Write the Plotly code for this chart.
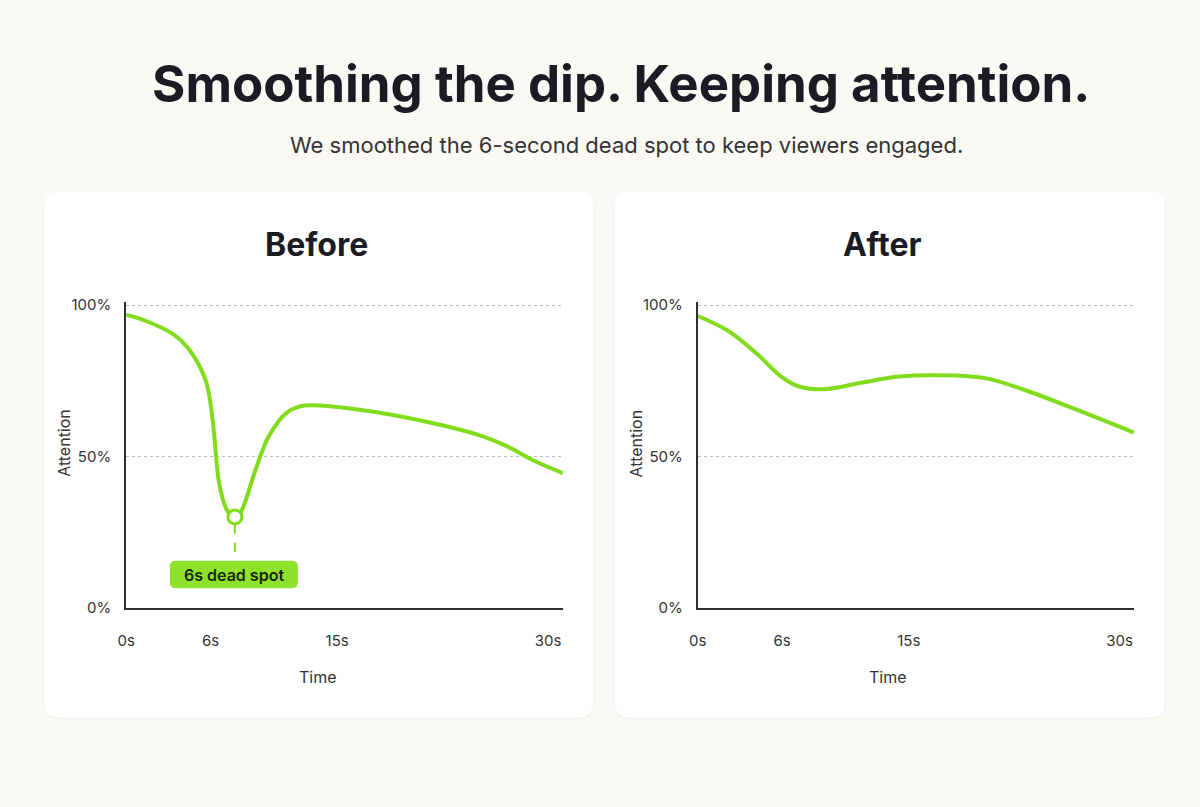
import plotly.graph_objects as go

# data (time in seconds, attention in %)
before_t = [0, 1.55, 3.37, 4.38, 5.65, 6.14, 6.63, 7.13, 7.40, 7.73, 8.05, 8.40, 9.17,
            10.16, 11.43, 12.70, 16.44, 21.52, 25.26, 27.03, 29.08, 31.05]
before_v = [96.8, 94.5, 90.3, 85.9, 75.2, 62.3, 40.6, 32.6, 30.8, 30.0, 30.9, 34.2, 45.2,
            56.8, 64.5, 66.8, 65.5, 61.3, 56.8, 53.5, 48.4, 44.5]

after_t = [0, 2.12, 4.16, 5.93, 7.2, 8.96, 11.7, 14.3, 18.3, 20.6, 23.1, 26.8, 31.0]
after_v = [96.4, 91.6, 84.1, 76.4, 73.1, 72.2, 74.4, 76.4, 76.7, 75.7, 72.2, 65.7, 57.9]

x_ticks = [0, 6, 15, 30]
x_labels = ["0s", "6s", "15s", "30s"]
y_ticks = [0, 50, 100]
y_labels = ["0%", "50%", "100%"]

dip_label = "6s dead spot"

# page is 1200x807; the body keeps its default 8px margin round the figure
OFF = 8
W, H = 1200 - 2 * OFF, 807 - 2 * OFF
BG = "#fbf9f4"
LIME = "#80dc1c"
INK = "#1b1b24"
FONT = "Inter"


def px(x):
    return (x - OFF) / W


def py(y):
    return 1 - (y - OFF) / H


def rounded_rect(x0, y0, x1, y1, r):
    # path in paper coords from a page-pixel box
    X = lambda v: f"{px(v):.5f}"
    Y = lambda v: f"{py(v):.5f}"
    return (f"M {X(x0 + r)} {Y(y0)} L {X(x1 - r)} {Y(y0)} "
            f"Q {X(x1)} {Y(y0)} {X(x1)} {Y(y0 + r)} L {X(x1)} {Y(y1 - r)} "
            f"Q {X(x1)} {Y(y1)} {X(x1 - r)} {Y(y1)} L {X(x0 + r)} {Y(y1)} "
            f"Q {X(x0)} {Y(y1)} {X(x0)} {Y(y1 - r)} L {X(x0)} {Y(y0 + r)} "
            f"Q {X(x0)} {Y(y0)} {X(x0 + r)} {Y(y0)} Z")


def text(t, x, y, size, color="#333", weight=400, angle=0):
    return dict(text=t, x=px(x), y=py(y), xref="paper", yref="paper", showarrow=False,
                xanchor="center", yanchor="middle", textangle=angle,
                font=dict(family=FONT, size=size, color=color, weight=weight))


fig = go.Figure()

fig.add_trace(go.Scatter(x=before_t, y=before_v, mode="lines",
                         line=dict(color=LIME, width=4, shape="spline", smoothing=1.0),
                         xaxis="x", yaxis="y", hoverinfo="skip", showlegend=False))
fig.add_trace(go.Scatter(x=after_t, y=after_v, mode="lines",
                         line=dict(color=LIME, width=4, shape="spline", smoothing=1.0),
                         xaxis="x2", yaxis="y2", hoverinfo="skip", showlegend=False))

# dead spot marker at the minimum of the "before" curve
i_dip = before_v.index(min(before_v))
dip_t, dip_v = before_t[i_dip], before_v[i_dip]
fig.add_trace(go.Scatter(x=[dip_t], y=[dip_v], mode="markers",
                         marker=dict(size=14, color="white", line=dict(color=LIME, width=3)),
                         xaxis="x", yaxis="y", hoverinfo="skip", showlegend=False,
                         cliponaxis=False))

shapes = []
# cards with soft shadow
for (x0, x1) in [(35, 589), (610, 1165)]:
    shapes.append(dict(type="path", path=rounded_rect(x0 - 1, 188, x1 + 1, 727, 18),
                       xref="paper", yref="paper", fillcolor="rgba(120,110,80,0.05)",
                       line=dict(width=0), layer="below"))
    shapes.append(dict(type="path", path=rounded_rect(x0, 188, x1, 725, 16),
                       xref="paper", yref="paper", fillcolor="white",
                       line=dict(width=0), layer="below"))

# dashed leader from the marker to the label, and the label pill
shapes.append(dict(type="line", xref="x", yref="y", x0=dip_t, x1=dip_t,
                   y0=dip_v - 2.6, y1=15.5, line=dict(color=LIME, width=2, dash="dash")))
shapes.append(dict(type="path", path=rounded_rect(162, 565, 291, 593, 6),
                   xref="paper", yref="paper", fillcolor="#8ee22c",
                   line=dict(width=0), layer="above"))

axis_x = dict(range=[0, 31.05], tickvals=x_ticks, ticktext=x_labels, showgrid=False,
              zeroline=False, showline=True, linecolor="#2e2e2e", linewidth=2,
              ticks="", ticklabelstandoff=18, tickfont=dict(family=FONT, size=15, color="#333"),
              fixedrange=True)
axis_y = dict(range=[0, 101], tickvals=y_ticks, ticktext=y_labels, showgrid=True,
              gridcolor="#bdbdbd", griddash="dot", gridwidth=1, zeroline=False,
              showline=True, linecolor="#2e2e2e", linewidth=2, ticks="",
              ticklabelstandoff=10, tickfont=dict(family=FONT, size=15, color="#333"),
              fixedrange=True)

annotations = [
    text("Smoothing the dip. Keeping attention.", 617, 78, 51, INK, 700),
    text("We smoothed the 6-second dead spot to keep viewers engaged.", 622, 141, 22),
    text("Before", 310, 242, 32, INK, 700),
    text("After", 880, 242, 32, INK, 700),
    text("Time", 311, 684, 16),
    text("Time", 886, 684, 16),
    text("Attention", 56, 445, 16, angle=-90),
    text("Attention", 632, 445, 16, angle=-90),
    text(dip_label, 226.5, 579.5, 16, "#18260a", 600),
]

fig.update_layout(
    width=W, height=H,
    margin=dict(l=0, r=0, t=0, b=0),
    paper_bgcolor=BG, plot_bgcolor="rgba(0,0,0,0)",
    xaxis=dict(axis_x, domain=[px(118), px(558)], anchor="y"),
    yaxis=dict(axis_y, domain=[py(613), py(301)], anchor="x"),
    xaxis2=dict(axis_x, domain=[px(694), px(1134)], anchor="y2"),
    yaxis2=dict(axis_y, domain=[py(613), py(301)], anchor="x2"),
    shapes=shapes,
    annotations=annotations,
    showlegend=False,
)

page_bg = ("document.documentElement.style.background='" + BG + "';"
           "document.body.style.background='" + BG + "';")

fig.write_html("out.html", config={"displayModeBar": False}, post_script=page_bg)
